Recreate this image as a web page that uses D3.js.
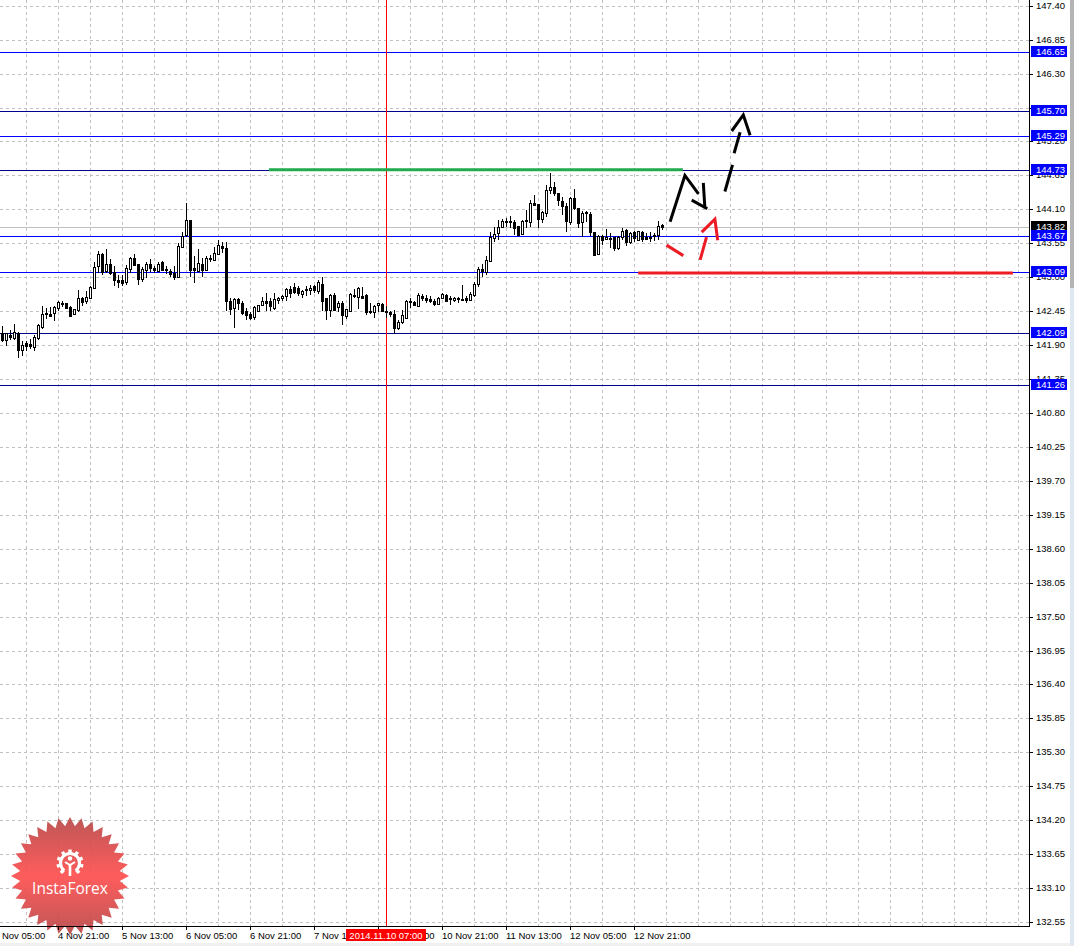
<!DOCTYPE html>
<html><head><meta charset="utf-8">
<script src="https://cdn.jsdelivr.net/npm/d3@7/dist/d3.min.js"></script>
<style>html,body{margin:0;padding:0;background:#fff;overflow:hidden}svg{display:block}text{font-family:"Liberation Sans",Arial,sans-serif}</style>
</head><body><svg id="c" width="1074" height="946"></svg>
<script>
// Candle index 0 = 4 Nov 07:00 (H1 candles, weekend skipped)
const opens=[142.10,141.98,142.07,142.01,142.10,141.82,141.93,141.91,141.87,142.01,142.20,142.42,142.41,142.42,142.51,142.57,142.58,142.52,142.40,142.47,142.66,142.61,142.66,142.83,143.17,143.37,143.10,143.22,143.08,142.95,142.95,142.92,143.13,143.31,143.22,142.96,143.13,143.22,143.15,143.11,143.24,143.13,143.10,143.07,143.00,143.49,143.67,143.93,143.15,143.10,143.22,143.12,143.31,143.27,143.38,143.51,143.47,142.62,142.50,142.64,142.58,142.45,142.41,142.35,142.45,142.55,142.61,142.61,142.50,142.62,142.66,142.70,142.81,142.84,142.83,142.73,142.81,142.79,142.85,142.77,142.89,142.66,142.47,142.72,142.51,142.58,142.36,142.46,142.71,142.69,142.70,142.72,142.46,142.45,142.54,142.57,142.46,142.43,142.41,142.18,142.27,142.35,142.60,142.60,142.54,142.70,142.67,142.64,142.62,142.57,142.67,142.72,142.66,142.62,142.64,142.64,142.67,142.64,142.71,142.89,143.13,143.09,143.27,143.64,143.71,143.81,143.91,143.91,143.90,143.83,143.70,143.91,143.89,144.20,144.19,143.94,144.05,144.41,144.46,144.36,144.23,144.16,143.90,144.29,144.13,143.89,144.04,144.02,143.73,143.38,143.67,143.61,143.64,143.65,143.47,143.65,143.77,143.57,143.73,143.61,143.74,143.66,143.66,143.67,143.69,143.84];
const highs=[142.21,142.10,142.15,142.25,142.11,141.96,141.96,142.00,142.07,142.25,142.53,142.50,142.52,142.53,142.61,142.62,142.59,142.53,142.49,142.80,142.68,142.77,142.85,143.24,143.43,143.39,143.45,143.30,143.19,143.03,143.03,143.20,143.32,143.37,143.22,143.16,143.24,143.29,143.19,143.24,143.26,143.19,143.13,143.19,143.56,143.73,144.21,143.93,143.34,143.45,143.31,143.35,143.36,143.49,143.61,143.57,143.57,142.66,142.66,142.67,142.61,142.50,142.43,142.54,142.55,142.68,142.75,142.66,142.75,142.68,142.72,142.82,142.85,142.90,142.86,142.79,142.86,142.88,142.88,142.95,143.00,142.66,142.73,142.74,142.62,142.61,142.49,142.75,142.81,142.84,142.84,142.73,142.59,142.55,142.59,142.58,142.53,142.45,142.47,142.30,142.47,142.63,142.66,142.62,142.75,142.73,142.72,142.70,142.64,142.68,142.75,142.73,142.69,142.68,142.68,142.88,142.69,142.76,142.92,143.16,143.22,143.35,143.73,143.81,143.92,143.95,143.96,143.99,143.93,143.83,143.92,144.09,144.25,144.34,144.19,144.07,144.50,144.69,144.55,144.37,144.30,144.20,144.30,144.43,144.13,144.08,144.08,144.06,143.74,143.69,143.69,143.78,143.71,143.65,143.67,143.80,143.78,143.74,143.75,143.75,143.75,143.72,143.73,143.72,143.91,143.87];
const lows=[141.95,141.89,141.98,141.99,141.69,141.72,141.80,141.83,141.81,141.98,142.16,142.32,142.36,142.29,142.45,142.51,142.49,142.35,142.38,142.43,142.53,142.56,142.65,142.81,143.07,143.03,143.07,143.03,142.86,142.82,142.85,142.88,143.07,143.18,142.88,142.92,142.99,143.09,143.07,143.10,143.10,143.06,143.01,142.96,142.98,143.48,143.66,143.01,142.90,143.09,143.01,143.12,143.25,143.26,143.36,143.39,142.46,142.39,142.17,142.47,142.39,142.31,142.30,142.31,142.45,142.55,142.46,142.46,142.47,142.57,142.62,142.62,142.66,142.73,142.69,142.66,142.70,142.72,142.74,142.73,142.46,142.31,142.35,142.45,142.43,142.23,142.32,142.45,142.66,142.48,142.65,142.39,142.41,142.34,142.43,142.45,142.34,142.35,142.08,142.14,142.25,142.34,142.50,142.53,142.53,142.61,142.58,142.58,142.54,142.55,142.65,142.61,142.55,142.60,142.59,142.61,142.59,142.62,142.68,142.84,143.01,143.03,143.25,143.57,143.60,143.80,143.81,143.80,143.69,143.69,143.69,143.80,143.81,144.15,143.80,143.88,143.97,144.35,144.32,144.16,144.01,143.74,143.85,144.09,143.79,143.65,143.89,143.67,143.34,143.37,143.52,143.60,143.48,143.42,143.44,143.61,143.51,143.54,143.57,143.59,143.57,143.60,143.57,143.58,143.60,143.76];
const closes=[141.98,142.09,142.03,142.11,141.82,141.90,141.88,141.88,142.03,142.22,142.41,142.40,142.38,142.51,142.60,142.58,142.50,142.38,142.48,142.66,142.60,142.68,142.84,143.17,143.37,143.08,143.22,143.07,142.95,142.91,142.90,143.15,143.31,143.20,142.98,143.13,143.22,143.15,143.12,143.22,143.11,143.11,143.05,143.00,143.51,143.67,143.92,143.12,143.12,143.23,143.12,143.31,143.30,143.39,143.52,143.47,142.61,142.49,142.65,142.58,142.41,142.38,142.34,142.52,142.55,142.61,142.58,142.53,142.65,142.66,142.70,142.81,142.75,142.76,142.75,142.78,142.79,142.82,142.79,142.92,142.62,142.46,142.72,142.48,142.58,142.38,142.48,142.73,142.72,142.83,142.67,142.45,142.44,142.54,142.58,142.45,142.44,142.39,142.19,142.28,142.38,142.62,142.61,142.55,142.72,142.66,142.64,142.61,142.57,142.67,142.73,142.62,142.65,142.66,142.66,142.63,142.64,142.73,142.89,143.13,143.09,143.28,143.66,143.70,143.81,143.91,143.89,143.89,143.81,143.69,143.91,143.92,144.20,144.16,143.95,144.05,144.42,144.46,144.37,144.24,144.15,143.92,144.29,144.12,143.89,144.04,144.05,143.73,143.36,143.67,143.60,143.65,143.62,143.47,143.65,143.75,143.58,143.72,143.63,143.75,143.62,143.63,143.65,143.68,143.83,143.81];
const priceTicks=["147.40","146.85","146.30","145.75","145.20","144.65","144.10","143.55","143.00","142.45","141.90","141.35","140.80","140.25","139.70","139.15","138.60","138.05","137.50","136.95","136.40","135.85","135.30","134.75","134.20","133.65","133.10","132.55"];
const timeTickIndex=[-2,14,30,46,62,78,94,110,126,142,158];
const timeTickLabels=["4 Nov 05:00","4 Nov 21:00","5 Nov 13:00","6 Nov 05:00","6 Nov 21:00","7 Nov 13:00","10 Nov 05:00","10 Nov 21:00","11 Nov 13:00","12 Nov 05:00","12 Nov 21:00"];
const gridIndex=d3.range(6,256,8);
const blueLevels=[146.65,145.29,143.67,143.09];
const darkLevels=[145.70,144.73,142.09,141.26];
const currentPrice=143.82;
const crossIndex=96, crossLabel="2014.11.10 07:00";
const greenSegment=[[66.6,144.74],[170.1,144.74]];
const redSegment=[[158.9,143.07],[252.6,143.07]];
const blackStrokes=[
 [[166.9,143.90],[170.6,144.65],[174.0,144.35]],
 [[175.2,144.53],[175.6,144.12]],
 [[172.3,144.25],[176.2,144.11]],
 [[180.6,144.39],[182.5,144.82]],
 [[182.9,145.01],[184.4,145.35]],
 [[182.3,145.37],[185.2,145.63],[186.9,145.30]]];
const redStrokes=[
 [[166.0,143.52],[170.2,143.35]],
 [[174.4,143.28],[176.0,143.65]],
 [[174.8,143.73],[178.1,143.94],[178.8,143.60]]];

const W=1074,H=946,axisX=1029,axisY=926;
const x=d3.scaleLinear().domain([0,1]).range([2.5,6.5]);
const y=d3.scaleLinear().domain([147.40,132.55]).range([5.75,922]);
const py=v=>Math.round(y(+v));
const svg=d3.select("#c");
const lineGen=d3.line().x(d=>x(d[0])).y(d=>y(d[1]));

// window chrome
svg.append("rect").attr("x",1070).attr("y",0).attr("width",4).attr("height",288).attr("fill","#b4b4b4");
svg.append("rect").attr("x",1070).attr("y",288).attr("width",4).attr("height",658).attr("fill","#dfe7f0");
svg.append("rect").attr("x",0).attr("y",943).attr("width",1070).attr("height",3).attr("fill","#f0f0f0");

// grid
const g=svg.append("g").attr("shape-rendering","crispEdges").attr("stroke","#c0c0c0").attr("stroke-dasharray","3,3");
g.selectAll(".h").data(priceTicks).join("line").attr("x1",0).attr("x2",axisX).attr("y1",d=>py(d)+.5).attr("y2",d=>py(d)+.5);
g.selectAll(".v").data(gridIndex).join("line").attr("x1",d=>Math.floor(x(d))+.5).attr("x2",d=>Math.floor(x(d))+.5).attr("y1",0).attr("y2",axisY);

// current price line
svg.append("line").attr("x1",0).attr("x2",axisX).attr("y1",py(currentPrice)+.5).attr("y2",py(currentPrice)+.5).attr("stroke","#c0c0c0");

// levels
const lev=svg.append("g").attr("shape-rendering","crispEdges");
lev.selectAll(".b").data(blueLevels).join("line").attr("x1",0).attr("x2",axisX).attr("y1",d=>py(d)+.5).attr("y2",d=>py(d)+.5).attr("stroke","#0000ff");
lev.selectAll(".d").data(darkLevels).join("line").attr("x1",0).attr("x2",axisX).attr("y1",d=>py(d)+.5).attr("y2",d=>py(d)+.5).attr("stroke","#00008c");

// cross line
svg.append("line").attr("x1",Math.floor(x(crossIndex))).attr("x2",Math.floor(x(crossIndex))).attr("y1",0).attr("y2",axisY).attr("stroke","#ff0000").attr("shape-rendering","crispEdges");

// candles
const idx=d3.range(opens.length);
const cg=svg.append("g").attr("shape-rendering","crispEdges");
cg.selectAll(".w").data(idx).join("line")
 .attr("x1",i=>Math.floor(x(i))+.5).attr("x2",i=>Math.floor(x(i))+.5)
 .attr("y1",i=>y(highs[i])).attr("y2",i=>y(lows[i])).attr("stroke","#000");
cg.selectAll(".b").data(idx).join("rect")
 .attr("x",i=>Math.floor(x(i))-.5).attr("width",2)
 .attr("y",i=>Math.round(y(Math.max(opens[i],closes[i])))+.5)
 .attr("height",i=>Math.max(1,Math.round(Math.abs(y(opens[i])-y(closes[i])))))
 .attr("fill",i=>closes[i]<opens[i]?"#000":"#fff").attr("stroke","#000");

// segments
svg.append("path").attr("d",lineGen(greenSegment)).attr("stroke","#22ab4e").attr("stroke-width",3).attr("fill","none");
svg.append("path").attr("d",lineGen(redSegment)).attr("stroke","#ee1c25").attr("stroke-width",3).attr("fill","none");
svg.selectAll(".bs").data(blackStrokes).join("path").attr("d",lineGen).attr("stroke","#000").attr("stroke-width",3).attr("fill","none").attr("stroke-linejoin","miter");
svg.selectAll(".rs").data(redStrokes).join("path").attr("d",lineGen).attr("stroke","#ed1c24").attr("stroke-width",3).attr("fill","none");

// badge
const cx=70,cy=876,teeth=32,rO=59,rI=50;
const grad=svg.append("defs").append("linearGradient").attr("id","bg").attr("x1",0).attr("x2",0).attr("y1",0).attr("y2",1);
grad.append("stop").attr("offset","0").attr("stop-color","#b84a4a");
grad.append("stop").attr("offset",".5").attr("stop-color","#ff5050");
grad.append("stop").attr("offset","1").attr("stop-color","#b84a4a");
const starPts=d3.range(teeth*2).map(k=>{const a=k*Math.PI/teeth-Math.PI/2,r=k%2?rI:rO;return [cx+r*Math.cos(a),cy+r*Math.sin(a)];});
svg.append("polygon").attr("points",starPts.map(p=>p.join(",")).join(" ")).attr("fill","url(#bg)").attr("fill-opacity",.93);
const gear=svg.append("g").attr("transform",`translate(${cx},863)`);
gear.append("path").attr("d",d3.arc()({innerRadius:8,outerRadius:11,startAngle:-2.5,endAngle:2.5})).attr("fill","#fff");
d3.range(-2.4,2.6,.6).forEach(a=>gear.append("rect").attr("x",-1.7).attr("y",-13.5).attr("width",3.4).attr("height",4).attr("fill","#fff").attr("transform",`rotate(${a*180/Math.PI})`));
gear.append("circle").attr("cy",-4.5).attr("r",2.2).attr("fill","#fff");
gear.append("path").attr("d","M-5,-1 L0,2 L5,-1").attr("stroke","#fff").attr("stroke-width",2).attr("fill","none");
gear.append("rect").attr("x",-1.3).attr("y",1).attr("width",2.6).attr("height",12).attr("fill","#fff");
svg.append("text").attr("x",cx).attr("y",894).attr("text-anchor","middle").attr("fill","#fff").attr("font-size",15.5).style("font-family","'Open Sans'").text("InstaForex");

// axes
const ax=svg.append("g").attr("shape-rendering","crispEdges").attr("stroke","#000");
ax.append("line").attr("x1",axisX+.5).attr("x2",axisX+.5).attr("y1",0).attr("y2",axisY+1);
ax.append("line").attr("x1",0).attr("x2",axisX+1).attr("y1",axisY+.5).attr("y2",axisY+.5);
ax.selectAll(".pt").data(priceTicks).join("line").attr("x1",axisX+1).attr("x2",axisX+4).attr("y1",d=>py(d)+.5).attr("y2",d=>py(d)+.5);
ax.selectAll(".tt").data(timeTickIndex).join("line").attr("x1",d=>Math.floor(x(d))+.5).attr("x2",d=>Math.floor(x(d))+.5).attr("y1",axisY+1).attr("y2",axisY+4);

svg.selectAll(".pl").data(priceTicks).join("text").attr("x",1036).attr("y",d=>py(d)+2.5).attr("font-size",9.5).attr("fill","#000").text(d=>d);
svg.selectAll(".tl").data(timeTickIndex).join("text").attr("x",d=>x(d)-.5).attr("y",939).attr("font-size",9.5).attr("fill","#000").text((d,i)=>timeTickLabels[i]);

// price tags
const tag=(v,fill)=>{
 const t=svg.append("g");
 t.append("rect").attr("x",1031).attr("y",py(v)-6).attr("width",36).attr("height",11).attr("fill",fill).attr("shape-rendering","crispEdges");
 t.append("text").attr("x",1036).attr("y",py(v)+2.5).attr("font-size",9.5).attr("fill","#fff").text(v.toFixed(2));
};
tag(currentPrice,"#000");
blueLevels.concat(darkLevels).forEach(v=>tag(v,"#0000ff"));

// cross label
svg.append("rect").attr("x",x(crossIndex)-40.5).attr("y",929).attr("width",80).attr("height",12).attr("fill","#ff0000").attr("shape-rendering","crispEdges");
svg.append("text").attr("x",x(crossIndex)-0.5).attr("y",939).attr("text-anchor","middle").attr("font-size",9.5).attr("fill","#fff").text(crossLabel);
</script></body></html>
